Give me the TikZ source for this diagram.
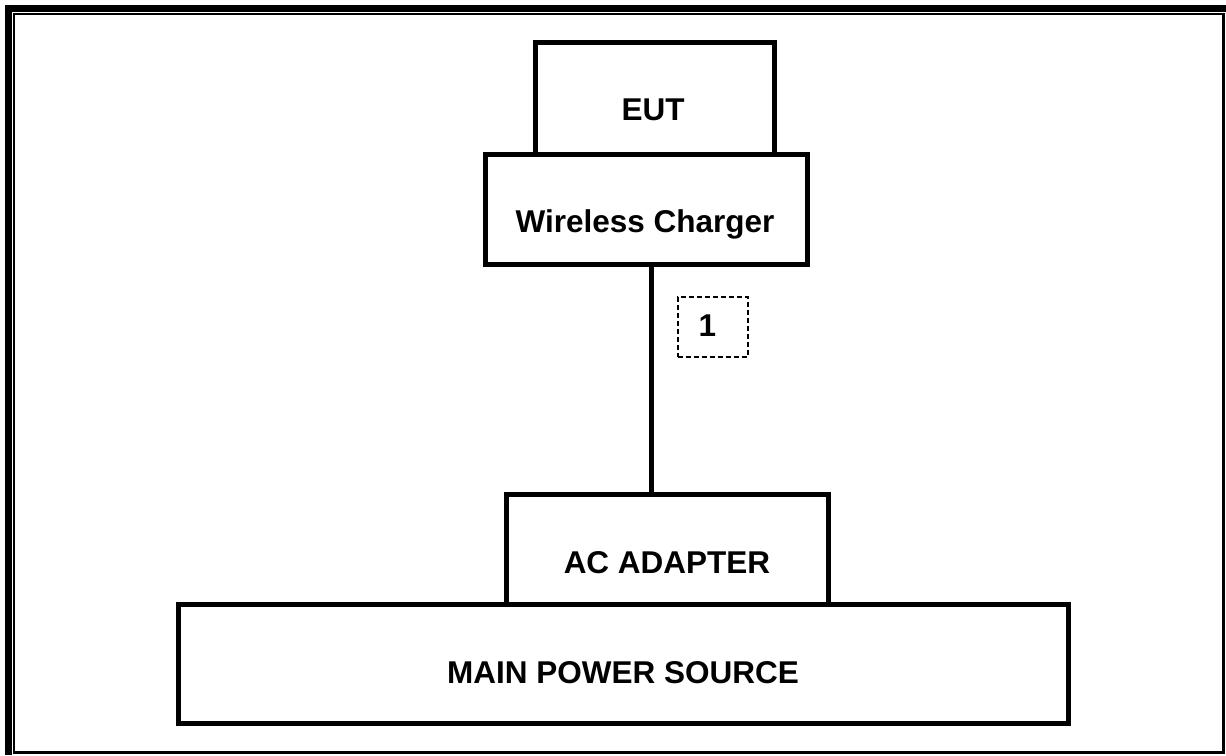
\documentclass[tikz,border=0pt]{standalone}
\usepackage{fontspec}
\setmainfont{Liberation Sans}
\begin{document}
\begin{tikzpicture}[x=1pt,y=-1pt,
  box/.style={draw=black,line width=5pt,rectangle,inner sep=0pt,outer sep=0pt},
  lab/.style={anchor=base,inner sep=0pt,font=\fontsize{31.5}{36}\selectfont\bfseries},
  dbox/.style={draw=black,line width=2pt,dash pattern=on 5pt off 3pt,rectangle,inner sep=0pt,outer sep=0pt},
  frame/.style={draw=black,line width=2.5pt}]
\useasboundingbox (0,0) rectangle (1226,755);
% outer frame
\fill[black] (5,5) rectangle (11.7,755);
\fill[black] (5,5) rectangle (1226,11.7);
\draw[frame] (14,14) rectangle (1223.5,752.5);
% boxes
\node[box,minimum width=889.5pt,minimum height=119.5pt] (mps) at (623.25,663.75) {};
\node[box,minimum width=321.5pt,minimum height=110pt] (ac) at (667.25,549) {};
\node[box,minimum width=239pt,minimum height=112pt] (eut) at (655,98.5) {};
\node[box,minimum width=322pt,minimum height=110pt] (wc) at (646.5,209.5) {};
% labels
\node[lab] (eutl) at (653,120) {EUT};
\node[lab] (wcl) at (645,232) {Wireless Charger};
\node[lab] (acl) at (667,573) {AC ADAPTER};
\node[lab] (mpsl) at (623,683) {MAIN POWER SOURCE};
% connector
\coordinate (cx) at (651.7,400);
\draw[line width=5.5pt] (wc.south -| cx) -- (ac.north -| cx);
% cable label
\node[dbox,minimum width=70pt,minimum height=60pt] (cab) at (713,327) {};
\node[lab] (cabl) at (707.5,336) {1};
\end{tikzpicture}
\end{document}
